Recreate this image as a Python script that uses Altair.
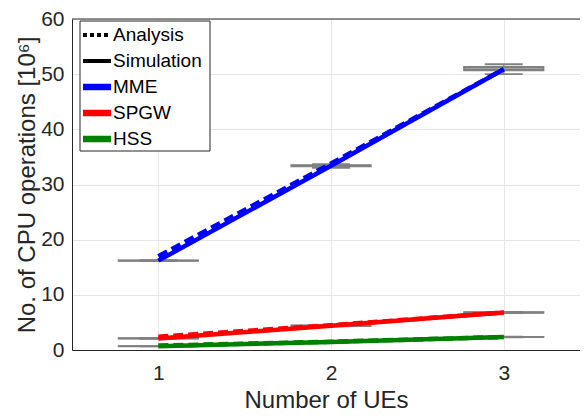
import altair as alt
import pandas as pd

# ---------------- data ----------------
ues = [1, 2, 3]
entities = ["MME", "SPGW", "HSS"]
entity_colors = ["#0000ff", "#ff0000", "#008000"]

# analysis (dotted) and simulation (solid) values, 10^6 CPU operations
analysis_mme = [17.0, 33.8, 50.9]
analysis_spgw = [2.4, 4.5, 6.8]
analysis_hss = [0.8, 1.5, 2.35]
sim_mme = [16.2, 33.4, 50.9]
sim_spgw = [2.1, 4.4, 6.8]
sim_hss = [0.7, 1.45, 2.35]

# box-plot statistics of the simulation runs
box_mme_lo = [16.1, 33.0, 50.0]
box_mme_q1 = [16.15, 33.3, 50.7]
box_mme_med = [16.2, 33.4, 50.9]
box_mme_q3 = [16.25, 33.5, 51.3]
box_mme_hi = [16.3, 33.7, 51.8]

box_spgw_lo = [2.0, 4.3, 6.7]
box_spgw_q1 = [2.05, 4.35, 6.75]
box_spgw_med = [2.1, 4.4, 6.8]
box_spgw_q3 = [2.15, 4.45, 6.85]
box_spgw_hi = [2.2, 4.5, 6.9]

box_hss_lo = [0.65, 1.4, 2.3]
box_hss_q1 = [0.68, 1.43, 2.33]
box_hss_med = [0.7, 1.45, 2.35]
box_hss_q3 = [0.72, 1.47, 2.37]
box_hss_hi = [0.75, 1.5, 2.4]

legend_labels = ["Analysis", "Simulation", "MME", "SPGW", "HSS"]
legend_colors = ["#000000", "#000000", "#0000ff", "#ff0000", "#008000"]

x_ticks = [1, 2, 3]
y_ticks = [0, 10, 20, 30, 40, 50, 60]

# ---------------- tables ----------------
analysis = {"MME": analysis_mme, "SPGW": analysis_spgw, "HSS": analysis_hss}
sim = {"MME": sim_mme, "SPGW": sim_spgw, "HSS": sim_hss}
boxes = {
    "MME": (box_mme_lo, box_mme_q1, box_mme_med, box_mme_q3, box_mme_hi),
    "SPGW": (box_spgw_lo, box_spgw_q1, box_spgw_med, box_spgw_q3, box_spgw_hi),
    "HSS": (box_hss_lo, box_hss_q1, box_hss_med, box_hss_q3, box_hss_hi),
}

line_rows = []
for e in entities:
    for i, u in enumerate(ues):
        line_rows.append({"ue": u, "entity": e, "kind": "Analysis", "value": analysis[e][i]})
        line_rows.append({"ue": u, "entity": e, "kind": "Simulation", "value": sim[e][i]})
lines_df = pd.DataFrame(line_rows)

box_rows = []
for e in entities:
    lo, q1, med, q3, hi = boxes[e]
    for i, u in enumerate(ues):
        box_rows.append({"ue": u, "entity": e, "lo": lo[i], "q1": q1[i], "med": med[i], "q3": q3[i], "hi": hi[i]})
box_df = pd.DataFrame(box_rows)

W, H = 508, 331
TOP = 11
X_MAX = 0.5 + W / 172.7
BOX_HALF = 0.23
CAP_HALF = 0.11
GRAY = "#808080"

xscale = alt.Scale(domain=[0.5, X_MAX], nice=False, zero=False)
yscale = alt.Scale(domain=[0, 60], nice=False)

xaxis = alt.Axis(values=x_ticks, format="d", title="Number of UEs", grid=True,
                 tickSize=0, labelPadding=12, titlePadding=5)
yaxis = alt.Axis(values=y_ticks, title="No. of CPU operations [10⁶]", grid=True,
                 tickSize=0, labelPadding=8, titlePadding=1)

base_box = alt.Chart(box_df).transform_calculate(
    bx1=f"datum.ue - {BOX_HALF}", bx2=f"datum.ue + {BOX_HALF}",
    cx1=f"datum.ue - {CAP_HALF}", cx2=f"datum.ue + {CAP_HALF}",
)

box_rect = base_box.mark_rect(fill=None, stroke=GRAY, strokeWidth=1.8).encode(
    x=alt.X("bx1:Q", scale=xscale, axis=xaxis),
    x2="bx2:Q",
    y=alt.Y("q1:Q", scale=yscale, axis=yaxis),
    y2="q3:Q",
)
box_med = base_box.mark_rule(color=GRAY, strokeWidth=1.8).encode(
    x=alt.X("bx1:Q", scale=xscale), x2="bx2:Q", y=alt.Y("med:Q", scale=yscale))
cap_lo = base_box.mark_rule(color=GRAY, strokeWidth=1.8).encode(
    x=alt.X("cx1:Q", scale=xscale), x2="cx2:Q", y=alt.Y("lo:Q", scale=yscale))
cap_hi = base_box.mark_rule(color=GRAY, strokeWidth=1.8).encode(
    x=alt.X("cx1:Q", scale=xscale), x2="cx2:Q", y=alt.Y("hi:Q", scale=yscale))
whisk_lo = base_box.mark_rule(color=GRAY, strokeWidth=1.2).encode(
    x=alt.X("ue:Q", scale=xscale), y=alt.Y("lo:Q", scale=yscale), y2="q1:Q")
whisk_hi = base_box.mark_rule(color=GRAY, strokeWidth=1.2).encode(
    x=alt.X("ue:Q", scale=xscale), y=alt.Y("q3:Q", scale=yscale), y2="hi:Q")

color_scale = alt.Scale(domain=entities, range=entity_colors)

sim_lines = alt.Chart(lines_df).transform_filter(alt.datum.kind == "Simulation").mark_line(
    strokeWidth=4.5).encode(
    x=alt.X("ue:Q", scale=xscale),
    y=alt.Y("value:Q", scale=yscale),
    color=alt.Color("entity:N", scale=color_scale, legend=None),
    detail="entity:N",
)
ana_lines = alt.Chart(lines_df).transform_filter(alt.datum.kind == "Analysis").mark_line(
    strokeWidth=4.5, strokeDash=[10, 5]).encode(
    x=alt.X("ue:Q", scale=xscale),
    y=alt.Y("value:Q", scale=yscale),
    color=alt.Color("entity:N", scale=color_scale, legend=None),
    detail="entity:N",
)

one = pd.DataFrame({"k": [0]})
top_border = alt.Chart(one).mark_rule(color="#262626", strokeWidth=1).encode(
    x=alt.value(0), x2=alt.value(W), y=alt.value(0))

# ---------------- legend (drawn by hand, MATLAB style) ----------------
ROW0, ROWSTEP = 16, 26
leg_df = pd.DataFrame({
    "label": legend_labels,
    "c": legend_colors,
    "py": [ROW0 + ROWSTEP * i for i in range(len(legend_labels))],
    "w": [4, 4, 6.5, 6.5, 6.5],
})
leg_box = alt.Chart(one).mark_rect(fill="white", stroke="#262626", strokeWidth=1).encode(
    x=alt.value(8), x2=alt.value(138), y=alt.value(2), y2=alt.value(132))
leg_dot = alt.Chart(leg_df.iloc[[0]]).mark_rule(strokeDash=[4, 3]).encode(
    x=alt.value(11), x2=alt.value(39),
    y=alt.Y("py:Q", scale=None),
    color=alt.Color("c:N", scale=None),
    strokeWidth=alt.StrokeWidth("w:Q", scale=None))
leg_solid = alt.Chart(leg_df.iloc[1:]).mark_rule().encode(
    x=alt.value(11), x2=alt.value(39),
    y=alt.Y("py:Q", scale=None),
    color=alt.Color("c:N", scale=None),
    strokeWidth=alt.StrokeWidth("w:Q", scale=None))
leg_text = alt.Chart(leg_df).mark_text(align="left", baseline="middle", fontSize=19,
                                        font="Liberation Sans", color="#000000").encode(
    x=alt.value(41), y=alt.Y("py:Q", scale=None), text="label:N")

chart = alt.layer(
    box_rect, whisk_lo, whisk_hi, cap_lo, cap_hi, box_med,
    sim_lines, ana_lines, top_border,
    leg_box, leg_dot, leg_solid, leg_text,
).properties(
    width=W, height=H,
    autosize=alt.AutoSizeParams(type="none"),
    padding={"left": 64, "top": TOP, "right": 0, "bottom": 404 - TOP - H},
).configure_view(stroke=None).configure_axis(
    labelFont="Liberation Sans", titleFont="Liberation Sans",
    labelFontSize=21, titleFontSize=24, titleFontWeight="normal",
    labelColor="#262626", titleColor="#262626",
    domainColor="#262626", domainWidth=1,
    gridColor="#e6e6e6", gridWidth=1,
)

chart.save("out.html", embed_options={"renderer": "svg", "actions": False})
